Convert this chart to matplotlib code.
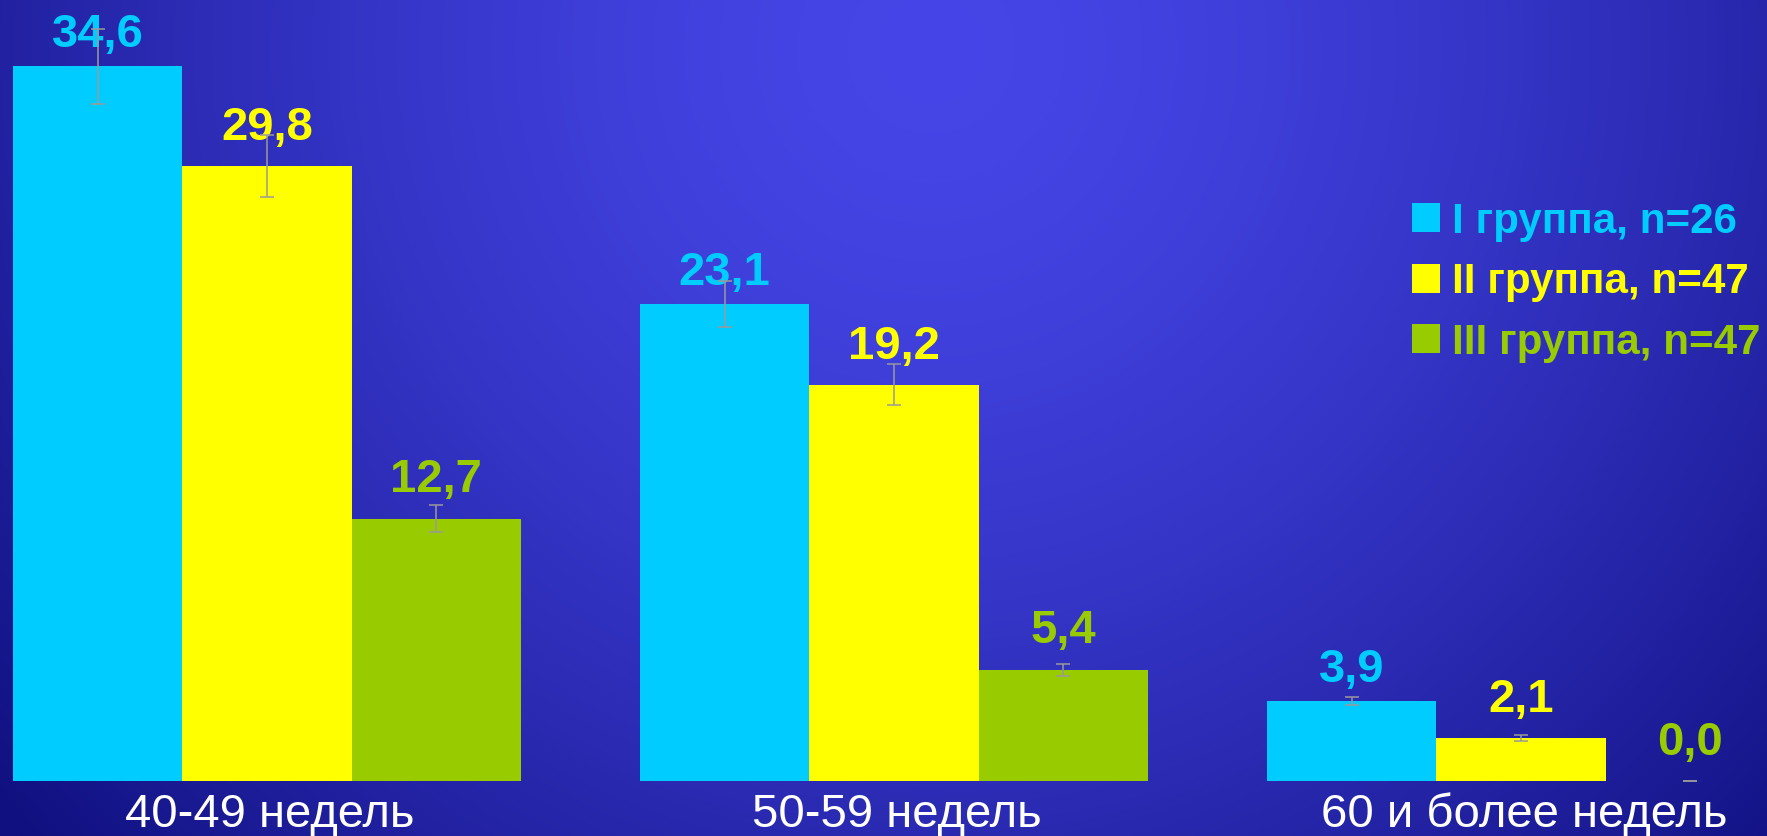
import matplotlib
matplotlib.use("Agg")
import matplotlib.pyplot as plt
import numpy as np
from matplotlib.patches import Rectangle

# ---------------- data ----------------
categories = ["40-49 недель", "50-59 недель", "60 и более недель"]
series_names = ["I группа, n=26", "II группа, n=47", "III группа, n=47"]
group_I = [34.6, 23.1, 3.9]
group_II = [29.8, 19.2, 2.1]
group_III = [12.7, 5.4, 0.0]
err_I = [1.8, 1.13, 0.2]
err_II = [1.5, 0.99, 0.13]
err_III = [0.65, 0.3, 0.0]

colors = ["#00CCFF", "#FFFF00", "#99CC00"]
values = [group_I, group_II, group_III]
errors = [err_I, err_II, err_III]
label_gaps_px = [20, 26.5, 27.5]

W, H = 1767, 837
DPI = 100
fig = plt.figure(figsize=(W / DPI, H / DPI), dpi=DPI)

# ---------------- background gradient ----------------
yy, xx = np.mgrid[0:H, 0:W]
d = np.hypot(xx - 930, yy - 50) / 1200.0
t = np.clip(d, 0, 1) ** 1.5
c0 = np.array([70, 70, 232]) / 255.0
c1 = np.array([16, 16, 128]) / 255.0
bg = c0[None, None, :] * (1 - t[..., None]) + c1[None, None, :] * t[..., None]
bgax = fig.add_axes([0, 0, 1, 1], zorder=0)
bgax.imshow(bg, aspect="auto", interpolation="bilinear")
bgax.axis("off")

# ---------------- bars ----------------
ax = fig.add_axes([0, 0, 1, 1], zorder=1)
ax.patch.set_alpha(0)
for s in ax.spines.values():
    s.set_visible(False)
ax.set_xticks([])
ax.set_yticks([])

x = np.arange(len(categories))
width = 0.27
offsets = [-width, 0.0, width]

for vals, errs, col, off, gap in zip(values, errors, colors, offsets, label_gaps_px):
    xs = x + off
    ax.bar(xs, vals, width, color=col, edgecolor="none", zorder=2)
    ax.errorbar(xs, vals, yerr=errs, fmt="none", ecolor="#9a9a9a",
                elinewidth=1.1, capsize=4.8, capthick=1.1, zorder=6)
    for xi, v in zip(xs, vals):
        ax.annotate(f"{v:.1f}".replace(".", ","), xy=(xi, v), xytext=(0, gap),
                    textcoords="offset pixels", ha="center", va="baseline",
                    color=col, fontsize=34, fontweight="bold",
                    family="Liberation Sans", zorder=4, annotation_clip=False)

for xi, cat in zip(x, categories):
    ax.annotate(cat, xy=(xi, 0), xytext=(3, -45), textcoords="offset pixels",
                ha="center", va="baseline", color="white", fontsize=34,
                family="Liberation Sans", annotation_clip=False)

# pixel mapping: group spacing 627 px, first group centre at 267 px, baseline 782.3 px from top
ax.set_xlim(-267 / 627, (W - 267) / 627)
ax.set_ylim(-(H - 782.3) / 20.66, 782.3 / 20.66)

# ---------------- legend ----------------
for i, (name, col) in enumerate(zip(series_names, colors)):
    base = 233 + i * 60.5
    fig.add_artist(Rectangle((1412 / W, 1 - base / H), 28 / W, 29 / H,
                             transform=fig.transFigure, facecolor=col,
                             edgecolor="none", zorder=5))
    fig.text(1452 / W, 1 - base / H, name, color=col, fontsize=30.3,
             fontweight="bold", family="Liberation Sans", va="baseline",
             ha="left", zorder=5)

fig.savefig("out.png", dpi=DPI)
